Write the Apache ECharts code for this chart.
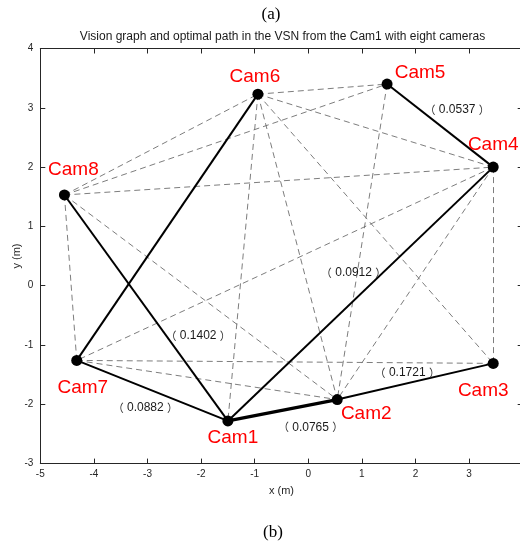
<!DOCTYPE html>
<html>
<head>
<meta charset="utf-8">
<script src="https://cdn.jsdelivr.net/npm/echarts@6/dist/echarts.min.js"></script>
<style>
html,body{margin:0;padding:0;background:#fff;}
#chart{width:520px;height:544px;}
</style>
</head>
<body>
<div id="chart"></div>
<script>
// ---- data ----
const camNames = ['Cam1','Cam2','Cam3','Cam4','Cam5','Cam6','Cam7','Cam8'];
const camX = [-1.50, 0.54, 3.45, 3.45, 1.47, -0.94, -4.32, -4.55];
const camY = [-2.28, -1.92, -1.31, 2.00, 3.40, 3.23, -1.26, 1.53];
// vision graph edges (camera numbers, 1-based)
const visionEdges = [[8,6],[8,5],[8,4],[8,2],[8,7],[6,5],[6,4],[6,3],[6,2],[6,1],[5,2],[4,7],[4,3],[4,2],[7,3],[7,2]];
// optimal path edges
const pathEdges = [[1,7],[7,6],[8,1],[1,2],[1,4],[4,5],[2,3]];
// weighted path edges and their labels
const weightEdges = [[1,7],[8,1],[1,2],[2,3],[1,4],[4,5]];
const weightValues = ['0.0882','0.1402','0.0765','0.1721','0.0912','0.0537'];
const xTicks = [-5,-4,-3,-2,-1,0,1,2,3,4];
const yTicks = [-3,-2,-1,0,1,2,3,4];

// ---- styling (pixel offsets of labels) ----
const camLabelOffset = [[5,17],[29,14],[-10,27],[0,-22],[33,-11],[-3,-17],[6,27],[9,-25]];
const weightLabelOffset = [[-7,17],[52,28],[28,17],[-8,-9],[-7,-21],[17,-16]];
const pathWidth = [2,2,2,3.2,2,2,2];

const pt = i => [camX[i-1], camY[i-1]];
const FONT = '"Liberation Sans", Arial, Helvetica, sans-serif';
const AX = '#262626';

const chart = echarts.init(document.getElementById('chart'), null, {renderer:'canvas'});

const axisCommon = {
  type:'value', min:xTicks[0], max:xTicks[xTicks.length-1], interval:1,
  splitLine:{show:false},
  axisLine:{show:true, onZero:false, lineStyle:{color:AX, width:1}},
  axisTick:{show:true, inside:true, length:5, lineStyle:{color:AX, width:1}}
};

const option = {
  animation:false,
  backgroundColor:'#fff',
  grid:{left:40.3, top:48.5, width:482.4, height:415.1, containLabel:false, outerBoundsMode:'none'},
  xAxis:[
    Object.assign({}, axisCommon, {
      position:'bottom',
      axisLabel:{color:AX, fontSize:10, fontFamily:FONT, margin:6},
      name:'x (m)', nameLocation:'middle', nameGap:22, nameMoveOverlap:false,
      nameTextStyle:{color:AX, fontSize:11, fontFamily:FONT}
    }),
    Object.assign({}, axisCommon, {position:'top', axisLabel:{show:false}})
  ],
  yAxis:[
    Object.assign({}, axisCommon, {
      min:yTicks[0], max:yTicks[yTicks.length-1],
      position:'left',
      axisLabel:{color:AX, fontSize:10, fontFamily:FONT, margin:7},
      name:'y (m)', nameLocation:'middle', nameGap:18, nameMoveOverlap:false,
      nameTextStyle:{color:AX, fontSize:11, fontFamily:FONT}
    }),
    Object.assign({}, axisCommon, {min:yTicks[0], max:yTicks[yTicks.length-1], position:'right', axisLabel:{show:false}})
  ],
  graphic:[
    {type:'text', x:271, y:15, style:{text:'(a)', font:'17px "Liberation Serif", "Times New Roman", serif', fill:'#000', align:'center', verticalAlign:'middle', textAlign:'center', textVerticalAlign:'middle'}},
    {type:'text', x:273, y:533, style:{text:'(b)', font:'17px "Liberation Serif", "Times New Roman", serif', fill:'#000', align:'center', verticalAlign:'middle', textAlign:'center', textVerticalAlign:'middle'}},
    {type:'text', x:282.5, y:37, style:{text:'Vision graph and optimal path in the VSN from the Cam1 with eight cameras', font:'12px ' + FONT, fill:'#1a1a1a', align:'center', verticalAlign:'middle', textAlign:'center', textVerticalAlign:'middle'}}
  ],
  series:[
    {
      type:'lines', coordinateSystem:'cartesian2d', silent:true, z:1,
      lineStyle:{color:'#6e6e6e', width:0.9, type:[6,4], opacity:1},
      data: visionEdges.map(e => ({coords:[pt(e[0]), pt(e[1])]}))
    },
    {
      type:'lines', coordinateSystem:'cartesian2d', silent:true, z:2,
      lineStyle:{color:'#000', width:2, opacity:1},
      data: pathEdges.map((e,i) => ({coords:[pt(e[0]), pt(e[1])], lineStyle:{width:pathWidth[i], color:'#000', opacity:1}}))
    },
    {
      type:'scatter', symbolSize:0, silent:true, z:3,
      itemStyle:{opacity:1},
      data: weightEdges.map((e,i) => ({
        value:[(camX[e[0]-1]+camX[e[1]-1])/2, (camY[e[0]-1]+camY[e[1]-1])/2],
        label:{offset:weightLabelOffset[i]}
      })),
      label:{show:true, position:'inside', color:'#1a1a1a', opacity:1, fontSize:12, fontFamily:FONT,
        formatter: p => '{p|（}{n| ' + weightValues[p.dataIndex] + ' }{p|）}',
        rich:{
          p:{fontFamily:'Noto Sans CJK SC', fontSize:11, color:'#333'},
          n:{fontFamily:FONT, fontSize:12, color:'#1a1a1a'}
        }}
    },
    {
      type:'scatter', symbol:'circle', symbolSize:11, silent:true, z:4,
      itemStyle:{color:'#000', opacity:1},
      data: camNames.map((n,i) => ({name:n, value:[camX[i], camY[i]], label:{offset:camLabelOffset[i]}})),
      label:{show:true, position:'inside', color:'#ff0000', opacity:1, fontSize:19, fontFamily:FONT,
        formatter: p => p.name}
    }
  ]
};
chart.setOption(option);
</script>
</body>
</html>
